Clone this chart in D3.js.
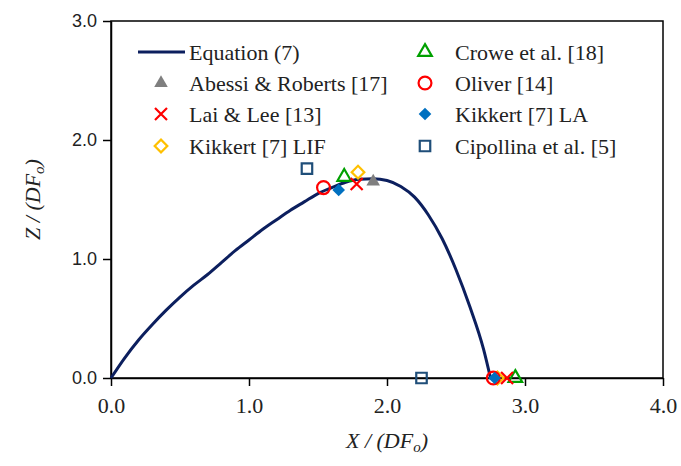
<!DOCTYPE html>
<html>
<head>
<meta charset="utf-8">
<script src="https://cdn.jsdelivr.net/npm/d3@7"></script>
<style>
  body { margin: 0; background: #fff; }
  svg { display: block; }
</style>
</head>
<body>
<div id="chart"></div>
<script>
// Equation (7) curve
const curveX = [0, 0.1, 0.2, 0.3, 0.4, 0.5, 0.6, 0.7, 0.8, 0.9, 1.0, 1.1, 1.2, 1.3, 1.4, 1.5, 1.6, 1.7, 1.8, 1.9, 2.0, 2.1, 2.2, 2.3, 2.4, 2.5, 2.6, 2.7, 2.75]
const curveY = [0, 0.17, 0.32, 0.45, 0.57, 0.68, 0.78, 0.87, 0.97, 1.07, 1.16, 1.25, 1.33, 1.41, 1.48, 1.55, 1.60, 1.645, 1.67, 1.675, 1.66, 1.61, 1.52, 1.37, 1.17, 0.91, 0.60, 0.24, 0.0]

// experimental series
const abessiX = [1.90]
const abessiY = [1.65]
const croweX = [1.69, 2.93]
const croweY = [1.69, 0.0]
const laiX = [1.78, 2.87]
const laiY = [1.63, 0.0]
const oliverX = [1.54, 2.77]
const oliverY = [1.6, 0.0]
const kikkertLIFX = [1.79, 2.8]
const kikkertLIFY = [1.73, 0.0]
const kikkertLAX = [1.65, 2.78]
const kikkertLAY = [1.58, 0.0]
const cipollinaX = [1.42, 2.25]
const cipollinaY = [1.76, 0.0]

const xTicks = [0, 1, 2, 3, 4]
const yTicks = [0, 1, 2, 3]

const w = 681
const h = 466
const padLeft = 111
const padRight = 663
const padTop = 21
const padBottom = 378
const serif = "'Liberation Serif', 'Times New Roman', Times, serif"
const sans = "'Liberation Sans', Arial, sans-serif"

const xScale = d3.scaleLinear().domain([0, 4]).range([padLeft, padRight])
const yScale = d3.scaleLinear().domain([0, 3]).range([padBottom, padTop])

const svg = d3.select('#chart').append('svg').attr('width', w).attr('height', h)

// frame
svg.append('rect')
  .attr('x', padLeft).attr('y', padTop)
  .attr('width', padRight - padLeft).attr('height', padBottom - padTop)
  .attr('fill', 'none').attr('stroke', '#000').attr('stroke-width', 1.5)

// x axis
const xAxis = d3.axisBottom(xScale).tickValues(xTicks).tickFormat(d3.format('.1f')).tickSize(8).tickSizeOuter(0)
const gx = svg.append('g').attr('transform', 'translate(0,' + padBottom + ')').call(xAxis)
gx.attr('font-family', serif)
gx.select('.domain').attr('stroke-width', 1.5)
gx.selectAll('.tick line').attr('stroke-width', 1.5)
gx.selectAll('.tick text')
  .style('font-family', serif).style('font-size', '22px').attr('fill', '#222').attr('dy', '1.1em')

// y axis
const yAxis = d3.axisLeft(yScale).tickValues(yTicks).tickFormat(d3.format('.1f')).tickSize(8).tickSizeOuter(0)
const gy = svg.append('g').attr('transform', 'translate(' + padLeft + ',0)').call(yAxis)
gy.attr('font-family', sans)
gy.select('.domain').attr('stroke-width', 1.5)
gy.selectAll('.tick line').attr('stroke-width', 1.5)
gy.selectAll('.tick text')
  .style('font-family', sans).style('font-size', '18px').attr('fill', '#222').attr('x', -14)

// axis titles
const xt = svg.append('text').style('font-family', serif).style('font-size', '22px').attr('font-style', 'italic')
  .attr('text-anchor', 'middle').attr('x', (padLeft + padRight) / 2).attr('y', 448).attr('fill', '#222')
xt.append('tspan').text('X / (DF')
xt.append('tspan').text('o').style('font-size', '15px').attr('dy', 4)
xt.append('tspan').text(')').attr('dy', -4)

const yt = svg.append('text').style('font-family', serif).style('font-size', '22px').attr('font-style', 'italic')
  .attr('text-anchor', 'middle').attr('transform', 'translate(40,' + ((padTop + padBottom) / 2) + ') rotate(-90)')
  .attr('fill', '#222')
yt.append('tspan').text('Z / (DF')
yt.append('tspan').text('o').style('font-size', '15px').attr('dy', 4)
yt.append('tspan').text(')').attr('dy', -4)

// curve
const line = d3.line().x((d) => xScale(d[0])).y((d) => yScale(d[1])).curve(d3.curveMonotoneX)
svg.append('path')
  .datum(curveX.map((x, i) => [x, curveY[i]]))
  .attr('d', line)
  .attr('fill', 'none').attr('stroke', '#0c1f5e').attr('stroke-width', 3)

// marker drawing
const sym = (type, size) => d3.symbol().type(type).size(size)()
const xMark = 'M-6,-6L6,6M-6,6L6,-6'

const series = [
  { name: 'Cipollina et al. [5]', xs: cipollinaX, ys: cipollinaY, path: sym(d3.symbolSquare, 110), fill: 'none', stroke: '#1f4e79', rot: 0 },
  { name: 'Abessi & Roberts [17]', xs: abessiX, ys: abessiY, path: sym(d3.symbolTriangle, 80), fill: '#7f7f7f', stroke: 'none', rot: 0 },
  { name: 'Kikkert [7] LIF', xs: kikkertLIFX, ys: kikkertLIFY, path: sym(d3.symbolSquare, 80), fill: 'none', stroke: '#ffc000', rot: 45 },
  { name: 'Crowe et al. [18]', xs: croweX, ys: croweY, path: sym(d3.symbolTriangle, 80), fill: 'none', stroke: '#00a000', rot: 0 },
  { name: 'Lai & Lee [13]', xs: laiX, ys: laiY, path: xMark, fill: 'none', stroke: '#ff0000', rot: 0 },
  { name: 'Oliver [14]', xs: oliverX, ys: oliverY, path: sym(d3.symbolCircle, 130), fill: 'none', stroke: '#ff0000', rot: 0 },
  { name: 'Kikkert [7] LA', xs: kikkertLAX, ys: kikkertLAY, path: sym(d3.symbolSquare, 80), fill: '#0070c0', stroke: 'none', rot: 45 }
]

series.forEach((s) => {
  svg.append('g').selectAll('path')
    .data(s.xs.map((x, i) => [x, s.ys[i]]))
    .join('path')
    .attr('d', s.path)
    .attr('transform', (d) => 'translate(' + xScale(d[0]) + ',' + yScale(d[1]) + ') rotate(' + s.rot + ')')
    .attr('fill', s.fill).attr('stroke', s.stroke).attr('stroke-width', 2.2)
})

// legend
const byName = {}
series.forEach((s) => { byName[s.name] = s })
const legendRows = [
  ['Equation (7)', 'Crowe et al. [18]'],
  ['Abessi & Roberts [17]', 'Oliver [14]'],
  ['Lai & Lee [13]', 'Kikkert [7] LA'],
  ['Kikkert [7] LIF', 'Cipollina et al. [5]']
]
const colMarker = [161, 425]
const colText = [189, 455]
const rowY = [52, 83, 114, 146]

legendRows.forEach((row, r) => {
  row.forEach((name, c) => {
    const g = svg.append('g')
    if (name === 'Equation (7)') {
      g.append('line').attr('x1', colMarker[c] - 23).attr('x2', colMarker[c] + 24)
        .attr('y1', rowY[r]).attr('y2', rowY[r])
        .attr('stroke', '#0c1f5e').attr('stroke-width', 3)
    } else {
      const s = byName[name]
      g.append('path').attr('d', s.path)
        .attr('transform', 'translate(' + colMarker[c] + ',' + rowY[r] + ') rotate(' + s.rot + ')')
        .attr('fill', s.fill).attr('stroke', s.stroke).attr('stroke-width', 2.2)
    }
    g.append('text').style('font-family', serif).style('font-size', '22px').attr('fill', '#222')
      .attr('x', colText[c]).attr('y', rowY[r]).attr('dy', '0.35em').text(name)
  })
})
</script>
</body>
</html>
